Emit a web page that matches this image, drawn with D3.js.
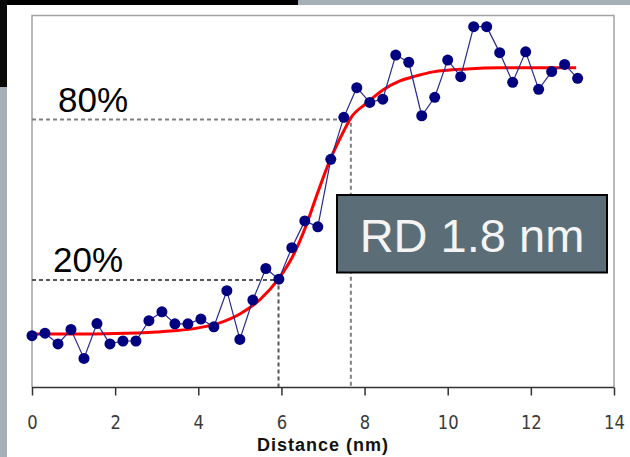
<!DOCTYPE html>
<html>
<head>
<meta charset="utf-8">
<script src="https://cdn.jsdelivr.net/npm/d3@7"></script>
<style>
	html, body { margin: 0; padding: 0; background: #fff; }
	svg { display: block; }
</style>
</head>
<body>
<div id="chart"></div>
<script>
// Measured profile, in % of the step height, sampled every 0.3125 nm
const STEP = 0.3125;
const profile = [
	-0.8, 0.1, -3.9, 1.5, -9.3, 3.7, -3.9, -2.8, -2.8, 4.8,
	8.1, 3.6, 3.6, 5.4, 2.5, 16.0, -2.2, 12.5, 24.3, 20.3,
	32.1, 42.1, 39.9, 65.1, 80.8, 91.9, 86.4, 87.6, 104.1, 101.4,
	81.4, 88.3, 102.2, 96.0, 114.7, 114.7, 105.0, 93.9, 105.3, 91.3,
	97.9, 100.6, 95.4
];

// Fitted curve
const fitX = [0, 1, 2, 3, 3.5, 4, 4.5, 5, 5.5, 5.93, 6.25, 6.57, 6.86, 7.17, 7.5, 7.67, 8.06, 8.44, 8.85, 9.25, 9.65, 10.46, 11.26, 13.09];
const fitY = [-0.2, -0.2, 0, 0.6, 1.1, 2.1, 3.9, 7.3, 12.9, 20.4, 28.2, 39.4, 52.1, 64.9, 75.7, 80.6, 86.2, 91.0, 94.4, 96.3, 97.8, 98.9, 99.3, 99.3];

// 20% / 80% crossings
const levels = [20, 80];
const crossings = [5.93, 7.67];
const levelLabels = ['20%', '80%'];

const xTicks = [0, 2, 4, 6, 8, 10, 12, 14];
const xTitle = 'Distance (nm)';
const boxText = 'RD 1.8 nm';

const W = 630, H = 457;
const plot = { left: 32, right: 614, top: 15.5, bottom: 387.5 };

const svg = d3.select('#chart').append('svg').attr('width', W).attr('height', H);

// slide background pieces around the chart
svg.append('rect').attr('width', W).attr('height', H).attr('fill', '#fff');
svg.append('rect').attr('x', 0).attr('y', 0).attr('width', 298).attr('height', 5).attr('fill', '#000');
svg.append('rect').attr('x', 298).attr('y', 0).attr('width', W - 298).attr('height', 5).attr('fill', '#a5b0b6');
svg.append('rect').attr('x', 0).attr('y', 0).attr('width', 7).attr('height', 87).attr('fill', '#0a0a0a');
svg.append('rect').attr('x', 0).attr('y', 87).attr('width', 7).attr('height', H - 87).attr('fill', '#a5b0b6');

const xScale = d3.scaleLinear().domain([0, 14]).range([plot.left, plot.right]);
const yScale = d3.scaleLinear().domain([0, 100]).range([333.5, 66]);

// plot frame
svg.append('path')
	.attr('d', `M${plot.left},${plot.bottom}V${plot.top}H${plot.right}V${plot.bottom}`)
	.attr('fill', 'none')
	.attr('stroke', '#a3a3a3')
	.attr('stroke-width', 1.5);

// dashed guides for 20% and 80%
levels.forEach((lv, i) => {
	const cx = xScale(crossings[i]);
	const cy = yScale(lv);
	const col = i === 0 ? '#555' : '#808080';
	svg.append('path')
		.attr('d', `M${plot.left},${cy}H${cx}V${plot.bottom}`)
		.attr('fill', 'none')
		.attr('stroke', col)
		.attr('stroke-width', 2)
		.attr('stroke-dasharray', '4 3');
	svg.append('text')
		.attr('x', i === 0 ? 53 : 58)
		.attr('y', cy - 8)
		.attr('font-family', 'Liberation Sans, Arial, sans-serif')
		.attr('font-size', 35)
		.attr('fill', '#000')
		.text(levelLabels[i]);
});

// x axis
const xAxis = d3.axisBottom(xScale).tickValues(xTicks).tickSize(8).tickPadding(19).tickFormat(d3.format('d'));
const gx = svg.append('g').attr('transform', `translate(0,${plot.bottom})`).call(xAxis);
gx.select('.domain').attr('stroke', '#333').attr('stroke-width', 1.5).attr('d', `M${plot.left},0H${plot.right}`);
gx.selectAll('.tick line').attr('stroke', '#333').attr('stroke-width', 1.5);
gx.selectAll('.tick text')
	.attr('font-family', 'DejaVu Sans, sans-serif')
	.attr('font-size', 20)
	.attr('transform', 'scale(0.82,1)')
	.attr('fill', '#3a3a3a');

svg.append('text')
	.attr('x', (plot.left + plot.right) / 2)
	.attr('y', 451)
	.attr('text-anchor', 'middle')
	.attr('font-family', 'Liberation Sans, Arial, sans-serif')
	.attr('font-weight', 'bold')
	.attr('font-size', 18)
	.attr('letter-spacing', 1)
	.attr('fill', '#111')
	.text(xTitle);

// fitted curve
const fit = fitX.map((x, i) => ({ x, y: fitY[i] }));
svg.append('path')
	.datum(fit)
	.attr('fill', 'none')
	.attr('stroke', '#ff0000')
	.attr('stroke-width', 3)
	.attr('d', d3.line().x((d) => xScale(d.x)).y((d) => yScale(d.y)).curve(d3.curveMonotoneX));

// measured points
const pts = profile.map((v, i) => ({ x: i * STEP, y: v }));
svg.append('path')
	.datum(pts)
	.attr('fill', 'none')
	.attr('stroke', '#2a2a90')
	.attr('stroke-width', 1.2)
	.attr('d', d3.line().x((d) => xScale(d.x)).y((d) => yScale(d.y)));

svg.selectAll('.dot')
	.data(pts)
	.enter()
	.append('circle')
	.attr('cx', (d) => xScale(d.x))
	.attr('cy', (d) => yScale(d.y))
	.attr('r', 5.5)
	.attr('fill', '#000080');

// RD annotation box
svg.append('rect')
	.attr('x', 337).attr('y', 195)
	.attr('width', 270).attr('height', 77.5)
	.attr('fill', '#5b6e78')
	.attr('stroke', '#000')
	.attr('stroke-width', 2);
svg.append('text')
	.attr('x', 472)
	.attr('y', 251.5)
	.attr('text-anchor', 'middle')
	.attr('font-family', 'Liberation Sans, Arial, sans-serif')
	.attr('font-size', 47)
	.attr('fill', '#f4f4f4')
	.text(boxText);
</script>
</body>
</html>
